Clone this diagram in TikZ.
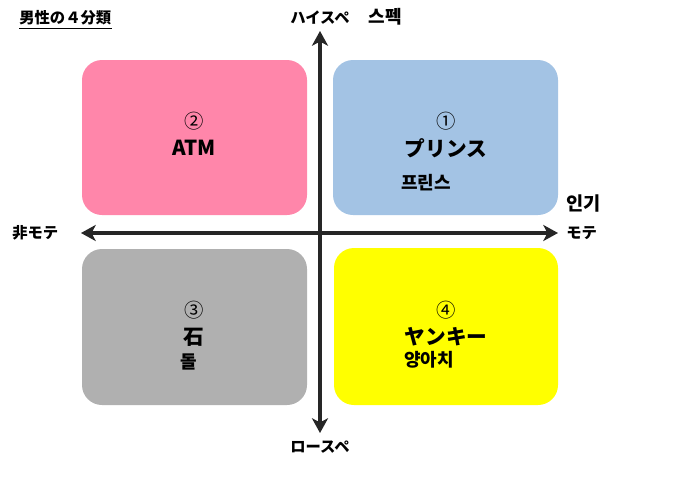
\documentclass[tikz,border=0pt]{standalone}
\usepackage{fontspec}
\newfontfamily\jp{Noto Sans CJK JP}
\newfontfamily\kr{Noto Sans CJK KR}
\usetikzlibrary{arrows.meta}
\definecolor{pinkq}{HTML}{FF86AA}
\definecolor{blueq}{HTML}{A3C3E4}
\definecolor{grayq}{HTML}{B0B0B0}
\definecolor{yellowq}{HTML}{FFFF00}
\definecolor{axisq}{HTML}{262626}
\tikzset{
  quad/.style={rounded corners=20*0.75pt, draw=none},
  axisline/.style={line width=2.3pt, draw=axisq, -{Stealth[length=11pt,width=12pt,inset=3pt]}},
  lbl/.style={font=\jp\bfseries\fontsize{11.5}{13}\selectfont, inner sep=0pt, text=black},
  krl/.style={font=\kr\bfseries\fontsize{13.5}{15}\selectfont, inner sep=0pt, text=black},
  num/.style={font=\jp\fontsize{14.5}{16}\selectfont, inner sep=0pt},
  big/.style={font=\jp\bfseries\fontsize{15.5}{18}\selectfont, inner sep=0pt},
}
\begin{document}
\begin{tikzpicture}[x=0.75pt,y=-0.75pt]
\useasboundingbox (0,0) rectangle (675,500);
% quadrants
\fill[pinkq, quad] (82,60) rectangle (307,215);
\fill[blueq, quad] (333,60) rectangle (558,215);
\fill[grayq, quad] (82,249) rectangle (307,405);
\fill[yellowq, quad] (334,248) rectangle (558,405);
% axes
\coordinate (vtop) at (320,31);
\coordinate (vbot) at (320,433);
\coordinate (hleft) at (81,233);
\coordinate (hright) at (558,233);
\coordinate (ctr) at (320,233);
\draw[axisline] (ctr) -- (vtop);
\draw[axisline] (ctr) -- (vbot);
\draw[axisline] (ctr) -- (hleft);
\draw[axisline] (ctr) -- (hright);
% title
\node[lbl, font=\jp\bfseries\fontsize{11.5}{13}\selectfont, anchor=west] (title) at (19,18) {男性の４分類};
\draw[line width=0.9pt] ([yshift=-2pt]title.south west) -- ([yshift=-2pt]title.south east);
% axis labels
\node[lbl] (hi) at (320,18) {ハイスペ};
\node[krl] (hikr) at (385,17) {스펙};
\node[lbl] (lo) at (320,447) {ロースペ};
\node[lbl, anchor=west] (left) at (12,233) {非モテ};
\node[lbl, anchor=west] (right) at (566,233) {モテ};
\node[krl, font=\kr\bfseries\fontsize{14}{16}\selectfont, anchor=west] (rightkr) at (566,203) {인기};
% quadrant texts
\node[num] (n2) at (194,121) {②};
\node[big] (atm) at (194,148) {ATM};
\node[num] (n1) at (446,121) {①};
\node[big] (prince) at (446,148) {プリンス};
\node[krl] (princekr) at (426,183) {프린스};
\node[num] (n3) at (194,310) {③};
\node[big] (stone) at (194,337) {石};
\node[krl] (stonekr) at (189,362) {돌};
\node[num] (n4) at (446,310) {④};
\node[big] (yankee) at (446,337) {ヤンキー};
\node[krl] (yankeekr) at (429,360) {양아치};
\end{tikzpicture}
\end{document}
